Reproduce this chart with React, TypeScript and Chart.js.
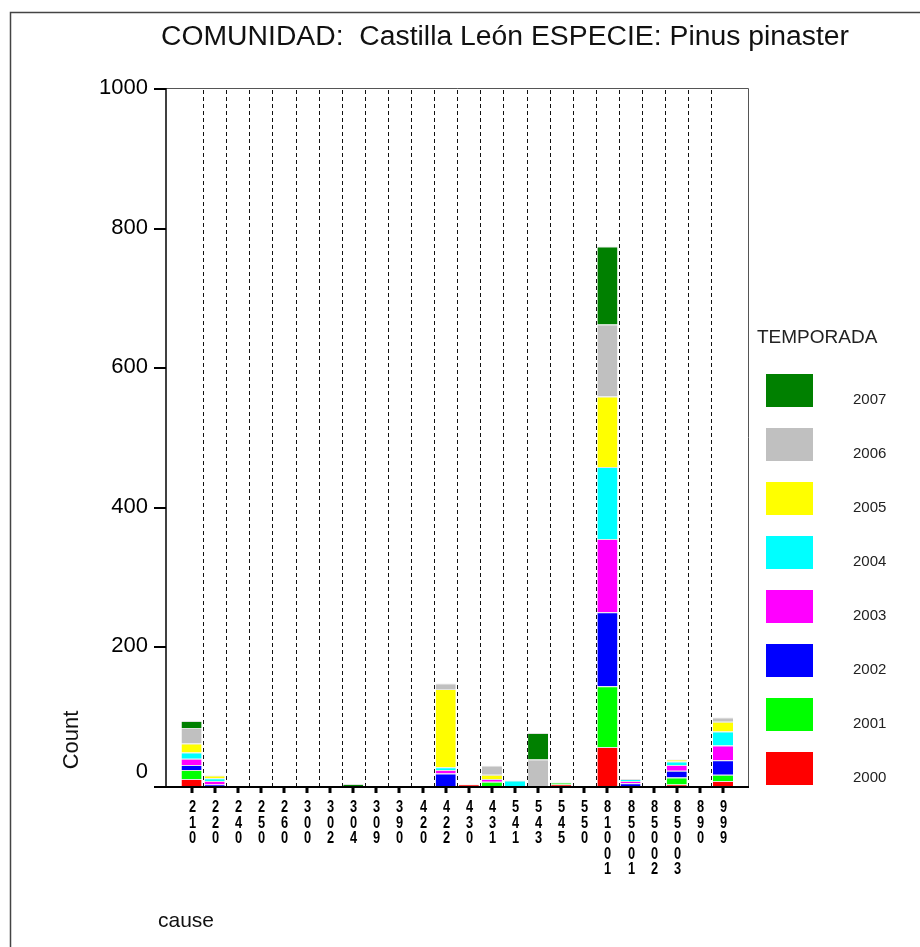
import React, { useEffect, useRef } from 'react';
import { Chart, registerables } from 'chart.js';

Chart.register(...registerables);

// ---------- data ----------
const CAUSES = ['210', '220', '240', '250', '260', '300', '302', '304', '309', '390', '420', '422', '430', '431', '541', '543', '545', '550', '81001', '85001', '85002', '85003', '890', '999'];
const SEASONS = ['2000', '2001', '2002', '2003', '2004', '2005', '2006', '2007'];
const SEASON_COLORS = ['#ff0000', '#00ff00', '#0000ff', '#ff00ff', '#00ffff', '#ffff00', '#c0c0c0', '#008000'];

//                 210 220 240 250 260 300 302 304 309 390 420 422 430 431 541 543 545 550 81001 85001 85002 85003 890 999
const COUNT_2000 = [10, 0, 0, 0, 0, 0, 0, 0, 0, 0, 0, 0, 2, 0, 0, 0, 2, 0, 56, 0, 0, 2, 0, 7];
const COUNT_2001 = [13, 0, 0, 0, 0, 0, 0, 0, 0, 0, 0, 0, 0, 6, 0, 0, 3, 0, 87, 0, 0, 10, 0, 9];
const COUNT_2002 = [7, 2, 0, 0, 0, 0, 0, 0, 0, 0, 0, 18, 0, 0, 0, 0, 0, 0, 106, 4, 0, 10, 0, 21];
const COUNT_2003 = [9, 5, 0, 0, 0, 0, 0, 0, 0, 0, 0, 5, 0, 4, 0, 0, 0, 0, 105, 3, 0, 8, 0, 21];
const COUNT_2004 = [9, 4, 0, 0, 0, 0, 0, 0, 0, 0, 0, 4, 0, 0, 8, 0, 0, 0, 103, 3, 0, 5, 0, 20];
const COUNT_2005 = [13, 4, 0, 0, 0, 0, 0, 0, 0, 0, 0, 112, 0, 6, 0, 0, 0, 0, 101, 0, 0, 3, 0, 14];
const COUNT_2006 = [22, 0, 0, 0, 0, 0, 0, 0, 0, 0, 0, 8, 0, 13, 0, 38, 0, 0, 103, 0, 0, 0, 0, 6];
const COUNT_2007 = [10, 0, 0, 0, 0, 0, 0, 3, 0, 0, 0, 0, 0, 0, 0, 38, 0, 0, 112, 0, 0, 0, 0, 0];
const SERIES = [COUNT_2000, COUNT_2001, COUNT_2002, COUNT_2003, COUNT_2004, COUNT_2005, COUNT_2006, COUNT_2007];

const Y_MIN = 0;
const Y_MAX = 1000;
const Y_STEP = 200;

const TITLE = 'COMUNIDAD:  Castilla León ESPECIE: Pinus pinaster';
const Y_TITLE = 'Count';
const X_TITLE = 'cause';
const LEGEND_TITLE = 'TEMPORADA';

const FONT = '"Liberation Sans", Arial, Helvetica, sans-serif';

function drawText(
  ctx: CanvasRenderingContext2D,
  s: string,
  x: number,
  y: number,
  font: string,
  align: CanvasTextAlign,
  sx = 1,
  color = '#000'
) {
  ctx.save();
  ctx.font = font;
  ctx.fillStyle = color;
  ctx.textBaseline = 'middle';
  ctx.textAlign = align;
  ctx.translate(x, y);
  ctx.scale(sx, 1);
  ctx.fillText(s, 0, 0);
  ctx.restore();
}

const decorPlugin = {
  id: 'spssDecor',
  beforeDatasetsDraw(chart: any) {
    const ctx: CanvasRenderingContext2D = chart.ctx;
    const xs = chart.scales.x;
    const area = chart.chartArea;
    ctx.save();
    ctx.strokeStyle = '#111';
    ctx.lineWidth = 1;
    ctx.setLineDash([4, 3]);
    const n = CAUSES.length;
    for (let i = 0; i < n - 1; i++) {
      const bx = Math.round((xs.getPixelForValue(i) + xs.getPixelForValue(i + 1)) / 2) + 0.5;
      ctx.beginPath();
      ctx.moveTo(bx, area.top + 2);
      ctx.lineTo(bx, area.bottom);
      ctx.stroke();
    }
    ctx.restore();
  },
  afterDraw(chart: any) {
    const ctx: CanvasRenderingContext2D = chart.ctx;
    const xs = chart.scales.x;
    const ys = chart.scales.y;
    const frameL = 166;
    const frameR = 748;
    const top = ys.getPixelForValue(Y_MAX);
    const bottom = ys.getPixelForValue(Y_MIN);

    ctx.save();
    // outer border
    ctx.strokeStyle = '#444';
    ctx.lineWidth = 1.5;
    ctx.beginPath();
    ctx.moveTo(10.5, 947);
    ctx.lineTo(10.5, 12.5);
    ctx.lineTo(920, 12.5);
    ctx.stroke();

    // plot frame
    ctx.strokeStyle = '#555';
    ctx.lineWidth = 1;
    ctx.beginPath();
    ctx.moveTo(frameL, Math.round(top) + 0.5);
    ctx.lineTo(frameR + 0.5, Math.round(top) + 0.5);
    ctx.lineTo(frameR + 0.5, bottom);
    ctx.stroke();

    ctx.strokeStyle = '#000';
    ctx.lineWidth = 1.5;
    ctx.beginPath();
    ctx.moveTo(frameL, top);
    ctx.lineTo(frameL, bottom);
    ctx.stroke();

    ctx.lineWidth = 2;
    ctx.beginPath();
    ctx.moveTo(154, Math.round(bottom) + 1);
    ctx.lineTo(frameR + 1, Math.round(bottom) + 1);
    ctx.stroke();

    // y ticks + labels
    ys.ticks.forEach((t: any) => {
      const py = ys.getPixelForValue(t.value);
      ctx.strokeStyle = '#000';
      ctx.lineWidth = 2;
      ctx.beginPath();
      ctx.moveTo(154, Math.round(py) + 1);
      ctx.lineTo(frameL, Math.round(py) + 1);
      ctx.stroke();
      const ly = t.value === Y_MIN ? py - 14 : py;
      drawText(ctx, String(t.value), 148, ly, `22px ${FONT}`, 'right', 1, '#000');
    });

    // x ticks + labels
    CAUSES.forEach((c, i) => {
      const px = Math.round(xs.getPixelForValue(i));
      ctx.fillStyle = '#000';
      ctx.fillRect(px - 1.5, bottom + 1, 3, 6);
      c.split('').forEach((ch, j) => {
        drawText(ctx, ch, px + 0.5, 808 + j * 15.5, `bold 16px ${FONT}`, 'center', 0.8, '#000');
      });
    });

    // title
    const titleFont = `27px ${FONT}`;
    ctx.font = titleFont;
    const tw = ctx.measureText(TITLE).width;
    const tsx = Math.min(1.2, Math.max(0.75, 688 / tw));
    drawText(ctx, TITLE, 505, 38, titleFont, 'center', tsx, '#111');

    // axis titles
    ctx.save();
    ctx.translate(72, 740);
    ctx.rotate(-Math.PI / 2);
    drawText(ctx, Y_TITLE, 0, 0, `22px ${FONT}`, 'center', 1, '#111');
    ctx.restore();
    drawText(ctx, X_TITLE, 158, 921, `21px ${FONT}`, 'left', 1, '#111');

    // legend
    drawText(ctx, LEGEND_TITLE, 757, 338, `19px ${FONT}`, 'left', 1, '#222');
    const ds = chart.data.datasets;
    for (let k = 0; k < ds.length; k++) {
      const d = ds[ds.length - 1 - k];
      const yTop = 374 + k * 54;
      ctx.fillStyle = d.backgroundColor;
      ctx.fillRect(766, yTop, 47, 33);
      drawText(ctx, d.label, 853, yTop + 25.5, `15px ${FONT}`, 'left', 1, '#222');
    }
    ctx.restore();
  },
};

export default function App() {
  const ref = useRef<HTMLCanvasElement | null>(null);

  useEffect(() => {
    if (!ref.current) return;
    const datasets = SEASONS.map((s, k) => ({
      label: s,
      data: SERIES[k],
      backgroundColor: SEASON_COLORS[k],
      borderColor: 'rgba(225,225,225,1)',
      borderWidth: { top: 1, right: 0, bottom: 0, left: 0 },
      borderSkipped: false as any,
      barPercentage: 0.87,
      categoryPercentage: 1,
    }));
    const chart = new Chart(ref.current, {
      type: 'bar',
      data: { labels: CAUSES, datasets },
      options: {
        responsive: false,
        animation: false,
        layout: { padding: { left: 0, right: 185.5, top: 88, bottom: 0 } },
        plugins: {
          legend: { display: false },
          tooltip: { enabled: false },
          title: { display: false },
        },
        scales: {
          x: {
            type: 'category',
            stacked: true,
            offset: true,
            grid: { display: false },
            border: { display: false },
            ticks: { display: false },
            afterFit: (s: any) => {
              s.height = 161;
            },
          },
          y: {
            stacked: true,
            min: Y_MIN,
            max: Y_MAX,
            ticks: { display: false, stepSize: Y_STEP },
            grid: { display: false },
            border: { display: false },
            afterFit: (s: any) => {
              s.width = 180;
            },
          },
        },
      } as any,
      plugins: [decorPlugin],
    });
    return () => chart.destroy();
  }, []);

  return (
    <div style={{ position: 'fixed', left: 0, top: 0, width: 920, height: 947, background: '#fff' }}>
      <canvas ref={ref} width={920} height={947} style={{ display: 'block', width: 920, height: 947 }} />
    </div>
  );
}
